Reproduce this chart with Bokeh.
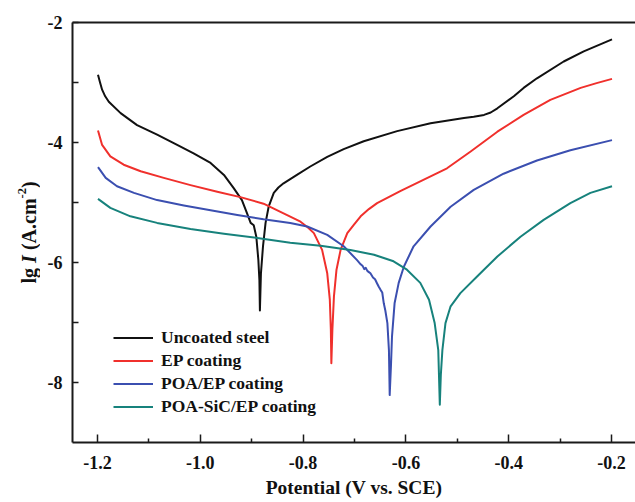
from math import pi

from bokeh.embed import file_html
from bokeh.layouts import row
from bokeh.models import (FixedTicker, Label, Legend, LegendItem, LinearAxis,
                          PrintfTickFormatter, Range1d)
from bokeh.plotting import figure
from bokeh.resources import INLINE

# Potentiodynamic polarization (Tafel) curves: potential in V vs. SCE,
# current density as lg I (A.cm-2)
uncoated_e = [-1.199, -1.195, -1.191, -1.185, -1.178, -1.155, -1.123, -1.084, -1.045,
              -1.013, -0.980, -0.954, -0.935, -0.919, -0.909, -0.902, -0.896, -0.891,
              -0.887, -0.885, -0.884, -0.882, -0.878, -0.873, -0.867, -0.857, -0.848,
              -0.838, -0.812, -0.786, -0.753, -0.721, -0.682, -0.617, -0.552, -0.487,
              -0.468, -0.448, -0.435, -0.422, -0.390, -0.371, -0.345, -0.293, -0.254,
              -0.199]
uncoated_lgi = [-2.87, -3.00, -3.12, -3.23, -3.32, -3.51, -3.71, -3.87, -4.04,
                -4.18, -4.34, -4.54, -4.76, -4.96, -5.18, -5.34, -5.38, -5.57,
                -5.96, -6.29, -6.80, -6.18, -5.73, -5.34, -5.07, -4.84, -4.75,
                -4.68, -4.54, -4.40, -4.24, -4.11, -3.98, -3.81, -3.68, -3.59,
                -3.57, -3.54, -3.50, -3.43, -3.23, -3.09, -2.93, -2.65, -2.48,
                -2.28]

ep_e = [-1.199, -1.191, -1.175, -1.149, -1.116, -1.071, -1.019, -0.967, -0.922,
        -0.877, -0.838, -0.805, -0.790, -0.779, -0.763, -0.753, -0.748, -0.746,
        -0.745, -0.743, -0.740, -0.735, -0.727, -0.714, -0.701, -0.688, -0.672,
        -0.656, -0.611, -0.575, -0.520, -0.474, -0.422, -0.371, -0.319, -0.260,
        -0.229, -0.199]
ep_lgi = [-3.80, -4.04, -4.23, -4.37, -4.48, -4.59, -4.71, -4.82, -4.91,
          -5.02, -5.18, -5.32, -5.42, -5.51, -5.79, -6.18, -6.62, -7.12,
          -7.68, -7.12, -6.57, -6.12, -5.79, -5.51, -5.37, -5.23, -5.11,
          -5.01, -4.81, -4.66, -4.43, -4.15, -3.82, -3.54, -3.29, -3.09,
          -3.01, -2.94]

poa_e = [-1.199, -1.184, -1.162, -1.129, -1.084, -1.032, -0.980, -0.928, -0.877,
         -0.825, -0.792, -0.753, -0.721, -0.695, -0.688, -0.684, -0.681, -0.678,
         -0.675, -0.672, -0.669, -0.664, -0.660, -0.656, -0.653, -0.649, -0.646,
         -0.643, -0.640, -0.636, -0.633, -0.6315, -0.629, -0.627, -0.622, -0.614,
         -0.604, -0.585, -0.552, -0.513, -0.468, -0.410, -0.345, -0.280, -0.199]
poa_lgi = [-4.41, -4.59, -4.73, -4.84, -4.96, -5.05, -5.13, -5.21, -5.28,
           -5.34, -5.40, -5.54, -5.73, -5.96, -6.03, -6.06, -6.11, -6.09,
           -6.14, -6.16, -6.18, -6.25, -6.28, -6.35, -6.40, -6.46, -6.50,
           -6.68, -6.80, -7.01, -7.46, -8.21, -7.71, -7.23, -6.68, -6.34,
           -6.07, -5.73, -5.40, -5.07, -4.79, -4.52, -4.30, -4.13, -3.96]

sic_e = [-1.199, -1.175, -1.136, -1.084, -1.019, -0.954, -0.889, -0.825, -0.766,
         -0.708, -0.662, -0.624, -0.598, -0.572, -0.555, -0.544, -0.537, -0.534,
         -0.532, -0.529, -0.523, -0.513, -0.494, -0.461, -0.422, -0.377, -0.332,
         -0.280, -0.241, -0.199]
sic_lgi = [-4.94, -5.09, -5.23, -5.34, -5.44, -5.52, -5.59, -5.67, -5.72,
           -5.79, -5.87, -5.98, -6.12, -6.34, -6.62, -7.01, -7.46, -8.37,
           -7.87, -7.46, -7.01, -6.73, -6.51, -6.23, -5.90, -5.57, -5.29,
           -5.01, -4.84, -4.73]

series_names = ["Uncoated steel", "EP coating", "POA/EP coating", "POA-SiC/EP coating"]
series_colors = ["#111111", "#f0302c", "#3b4fb0", "#17827c"]

x_ticks = [-1.2, -1.0, -0.8, -0.6, -0.4, -0.2]
x_minor = [-1.1, -0.9, -0.7, -0.5, -0.3]
y_ticks = [-2, -4, -6, -8]
y_minor = [-3, -5, -7]

FONT = "Liberation Serif"
INK = "#111111"

H = 502
BORDER_TOP, BORDER_BOTTOM = 22, 60

# narrow strip on the left that carries the rotated y-axis title;
# its y range is in pixels measured from the bottom of the page
TITLE_W = 40
title_fig = figure(width=TITLE_W, height=H, output_backend="svg", toolbar_location=None,
                   x_range=Range1d(0, TITLE_W),
                   y_range=Range1d(BORDER_BOTTOM, H - BORDER_TOP),
                   min_border_left=0, min_border_right=0,
                   min_border_top=BORDER_TOP, min_border_bottom=BORDER_BOTTOM,
                   x_axis_type=None, y_axis_type=None)
title_fig.outline_line_color = None
title_fig.border_fill_color = "white"
title_fig.background_fill_color = "white"

# (text, style, size, baseline x, start position measured from the page top)
title_parts = [
    ("lg", "bold", "20px", 28, 283.0),
    ("I", "bold italic", "20px", 28, 262.4),
    ("(A.cm", "bold", "20px", 28, 249.6),
    ("-2", "bold", "12.5px", 21, 198.0),
    (")", "bold", "20px", 28, 187.6),
]
for txt, style, size, bx, top_y in title_parts:
    title_fig.add_layout(Label(x=bx, y=H - top_y, text=txt, angle=pi / 2,
                               text_font=FONT, text_font_style=style,
                               text_font_size=size, text_color=INK,
                               text_align="left", text_baseline="alphabetic"))

# main plot frame
p = figure(width=635 - TITLE_W, height=H, output_backend="svg", toolbar_location=None,
           x_range=Range1d(-1.2486, -0.1533), y_range=Range1d(-9.0, -2.0),
           min_border_left=72 - TITLE_W, min_border_right=0,
           min_border_top=BORDER_TOP, min_border_bottom=BORDER_BOTTOM,
           x_axis_type=None, y_axis_type=None)
p.outline_line_color = None
p.background_fill_color = "white"
p.border_fill_color = "white"

xaxis = LinearAxis(ticker=FixedTicker(ticks=x_ticks, minor_ticks=x_minor),
                   formatter=PrintfTickFormatter(format="%.1f"),
                   axis_label="Potential (V vs. SCE)")
yaxis = LinearAxis(ticker=FixedTicker(ticks=y_ticks, minor_ticks=y_minor),
                   formatter=PrintfTickFormatter(format="%d"))
for ax in (xaxis, yaxis):
    ax.axis_line_width = 2
    ax.axis_line_color = "#1a1a1a"
    ax.major_tick_line_color = "#1a1a1a"
    ax.minor_tick_line_color = "#1a1a1a"
    ax.major_tick_line_width = 1.5
    ax.minor_tick_line_width = 1.5
    ax.major_tick_out = 0
    ax.minor_tick_out = 0
    ax.major_label_text_font = FONT
    ax.major_label_text_font_style = "bold"
    ax.major_label_text_color = INK
    ax.major_label_text_font_size = "18px"
xaxis.major_tick_in = 8
xaxis.minor_tick_in = 4
yaxis.major_tick_in = 6
yaxis.minor_tick_in = 6
xaxis.major_label_standoff = 13
xaxis.axis_label_standoff = 5
xaxis.axis_label_text_font = FONT
xaxis.axis_label_text_font_style = "bold"
xaxis.axis_label_text_font_size = "19.5px"
xaxis.axis_label_text_color = INK
yaxis.major_label_standoff = 10
p.add_layout(xaxis, "below")
p.add_layout(yaxis, "left")

top_axis = LinearAxis(ticker=FixedTicker(ticks=[]), axis_line_width=2,
                      axis_line_color="#1a1a1a", major_tick_in=0, major_tick_out=0,
                      minor_tick_in=0, minor_tick_out=0)
p.add_layout(top_axis, "above")

curves = [(uncoated_e, uncoated_lgi), (ep_e, ep_lgi), (poa_e, poa_lgi), (sic_e, sic_lgi)]
items = []
for (e, lgi), name, color in zip(curves, series_names, series_colors):
    r = p.line(e, lgi, line_color=color, line_width=2, line_join="round")
    items.append(LegendItem(label=name, renderers=[r]))

legend = Legend(items=items, location=(41, 24), orientation="vertical",
                label_text_font=FONT, label_text_font_style="bold",
                label_text_font_size="17.5px", label_text_color=INK,
                glyph_width=40, glyph_height=23, label_height=23, spacing=0,
                padding=0, margin=0, label_standoff=8,
                border_line_color=None, background_fill_alpha=0)
p.add_layout(legend, "center")

page = row(title_fig, p, spacing=0)
open("out.html", "w").write(file_html(page, INLINE))
